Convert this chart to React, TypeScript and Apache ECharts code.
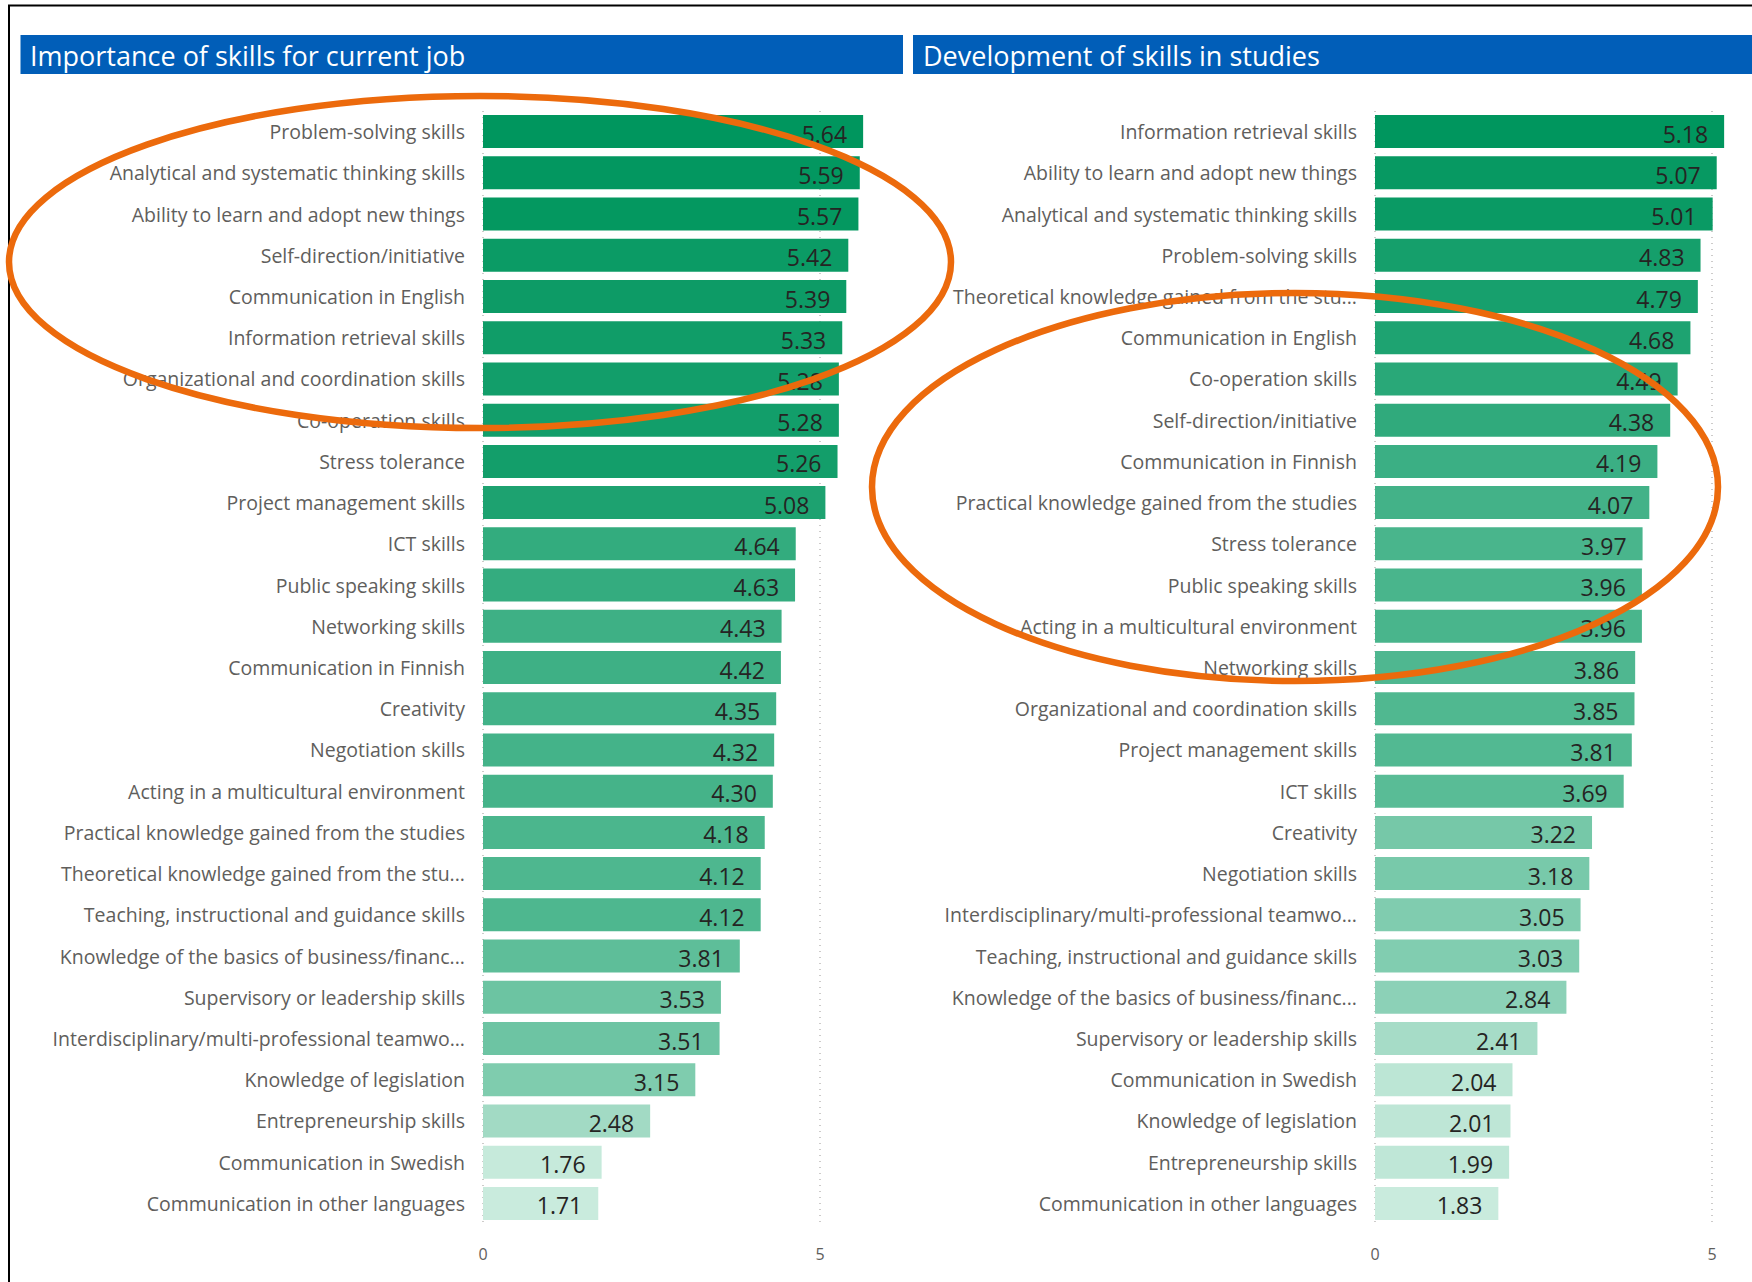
import React, { useEffect, useRef } from "react";
import * as echarts from "echarts";

const panelTitles = ["Importance of skills for current job", "Development of skills in studies"];

const jobCategories = [
  "Problem-solving skills",
  "Analytical and systematic thinking skills",
  "Ability to learn and adopt new things",
  "Self-direction/initiative",
  "Communication in English",
  "Information retrieval skills",
  "Organizational and coordination skills",
  "Co-operation skills",
  "Stress tolerance",
  "Project management skills",
  "ICT skills",
  "Public speaking skills",
  "Networking skills",
  "Communication in Finnish",
  "Creativity",
  "Negotiation skills",
  "Acting in a multicultural environment",
  "Practical knowledge gained from the studies",
  "Theoretical knowledge gained from the stu...",
  "Teaching, instructional and guidance skills",
  "Knowledge of the basics of business/financ...",
  "Supervisory or leadership skills",
  "Interdisciplinary/multi-professional teamwo...",
  "Knowledge of legislation",
  "Entrepreneurship skills",
  "Communication in Swedish",
  "Communication in other languages",
];
const jobValues = [
  5.64, 5.59, 5.57, 5.42, 5.39, 5.33, 5.28, 5.28, 5.26, 5.08, 4.64, 4.63, 4.43, 4.42,
  4.35, 4.32, 4.3, 4.18, 4.12, 4.12, 3.81, 3.53, 3.51, 3.15, 2.48, 1.76, 1.71,
];

const studyCategories = [
  "Information retrieval skills",
  "Ability to learn and adopt new things",
  "Analytical and systematic thinking skills",
  "Problem-solving skills",
  "Theoretical knowledge gained from the stu...",
  "Communication in English",
  "Co-operation skills",
  "Self-direction/initiative",
  "Communication in Finnish",
  "Practical knowledge gained from the studies",
  "Stress tolerance",
  "Public speaking skills",
  "Acting in a multicultural environment",
  "Networking skills",
  "Organizational and coordination skills",
  "Project management skills",
  "ICT skills",
  "Creativity",
  "Negotiation skills",
  "Interdisciplinary/multi-professional teamwo...",
  "Teaching, instructional and guidance skills",
  "Knowledge of the basics of business/financ...",
  "Supervisory or leadership skills",
  "Communication in Swedish",
  "Knowledge of legislation",
  "Entrepreneurship skills",
  "Communication in other languages",
];
const studyValues = [
  5.18, 5.07, 5.01, 4.83, 4.79, 4.68, 4.49, 4.38, 4.19, 4.07, 3.97, 3.96, 3.96, 3.86,
  3.85, 3.81, 3.69, 3.22, 3.18, 3.05, 3.03, 2.84, 2.41, 2.04, 2.01, 1.99, 1.83,
];

const axisTicks = [0, 5];

const LOW_RGB = [201, 235, 221];
const HIGH_RGB = [0, 150, 94];

function shade(v: number, lo: number, hi: number): string {
  const t = hi === lo ? 1 : (v - lo) / (hi - lo);
  const c = LOW_RGB.map((l, i) => Math.round(l + (HIGH_RGB[i] - l) * t));
  return `rgb(${c[0]},${c[1]},${c[2]})`;
}

const FONT = "'Open Sans', 'Noto Sans', sans-serif";
const PX_PER_UNIT = 67.4;

export default function App() {
  const ref = useRef<HTMLDivElement>(null);

  useEffect(() => {
    if (!ref.current) return;
    const chart = echarts.init(ref.current, null, { renderer: "svg" });

    const panels = [
      { cats: jobCategories, vals: jobValues, left: 483, max: 6 },
      { cats: studyCategories, vals: studyValues, left: 1375, max: 5.5 },
    ];

    const grids = panels.map((p) => ({
      left: p.left,
      top: 111,
      width: p.max * PX_PER_UNIT,
      height: 1113,
    }));

    const xAxes = panels.map((p, i) => ({
      type: "value",
      gridIndex: i,
      min: 0,
      max: p.max,
      interval: 5,
      splitLine: { show: false },
      axisLine: { show: false },
      axisTick: { show: false },
      axisLabel: {
        showMaxLabel: false,
        margin: 22,
        fontSize: 16,
        color: "#605E5C",
        fontFamily: FONT,
        formatter: (v: number) => (axisTicks.includes(v) ? String(v) : ""),
      },
    }));

    const yAxes = panels.map((p, i) => ({
      type: "category",
      gridIndex: i,
      data: p.cats,
      inverse: true,
      axisLine: { show: false },
      axisTick: { show: false },
      splitLine: { show: false },
      axisLabel: {
        interval: 0,
        margin: 18,
        fontSize: 19.5,
        color: "#605E5C",
        fontFamily: FONT,
      },
    }));

    const series = panels.map((p, i) => {
      const lo = Math.min(...p.vals);
      const hi = Math.max(...p.vals);
      return {
        type: "bar",
        xAxisIndex: i,
        yAxisIndex: i,
        barCategoryGap: "20%",
        data: p.vals.map((v) => ({ value: v, itemStyle: { color: shade(v, lo, hi) } })),
        label: {
          show: true,
          position: "insideRight",
          distance: 16,
          offset: [0, 2],
          fontSize: 23,
          color: "#252423",
          fontFamily: FONT,
          formatter: (d: any) => Number(d.value).toFixed(2),
        },
        markLine: {
          silent: true,
          z: 1,
          symbol: "none",
          label: { show: false },
          lineStyle: { type: [1, 5], color: "#BDBBB9", width: 1.5 },
          emphasis: { disabled: true },
          data: axisTicks.map((t) => ({ xAxis: t })),
        },
      };
    });

    const graphicEls: any[] = [
      {
        type: "polyline",
        shape: { points: [[9, 1282], [9, 5.5], [1752, 5.5]] },
        style: { stroke: "#000", lineWidth: 2, fill: "none" },
        z: 50,
      },
      {
        type: "rect",
        shape: { x: 20.5, y: 35, width: 882.5, height: 39 },
        style: { fill: "#015EB8" },
        z: 10,
      },
      {
        type: "rect",
        shape: { x: 913, y: 35, width: 845, height: 39 },
        style: { fill: "#015EB8" },
        z: 10,
      },
      {
        type: "text",
        x: 30,
        y: 55,
        style: {
          text: panelTitles[0],
          fill: "#FFFFFF",
          fontSize: 27,
          fontFamily: FONT,
          verticalAlign: "middle",
        },
        z: 11,
      },
      {
        type: "text",
        x: 923,
        y: 55,
        style: {
          text: panelTitles[1],
          fill: "#FFFFFF",
          fontSize: 27,
          fontFamily: FONT,
          verticalAlign: "middle",
        },
        z: 11,
      },
      {
        type: "ellipse",
        shape: { cx: 480, cy: 262, rx: 471, ry: 166 },
        style: { fill: "none", stroke: "#EC6A0C", lineWidth: 6.5 },
        z: 100,
      },
      {
        type: "ellipse",
        shape: { cx: 1295, cy: 487, rx: 423, ry: 194 },
        style: { fill: "none", stroke: "#EC6A0C", lineWidth: 6.5 },
        z: 100,
      },
    ];

    chart.setOption({
      animation: false,
      backgroundColor: "#FFFFFF",
      grid: grids,
      xAxis: xAxes,
      yAxis: yAxes,
      series,
      graphic: { elements: graphicEls },
    } as any);

    return () => {
      chart.dispose();
    };
  }, []);

  return (
    <div
      ref={ref}
      style={{ position: "absolute", left: 0, top: 0, width: 1752, height: 1282 }}
    />
  );
}
